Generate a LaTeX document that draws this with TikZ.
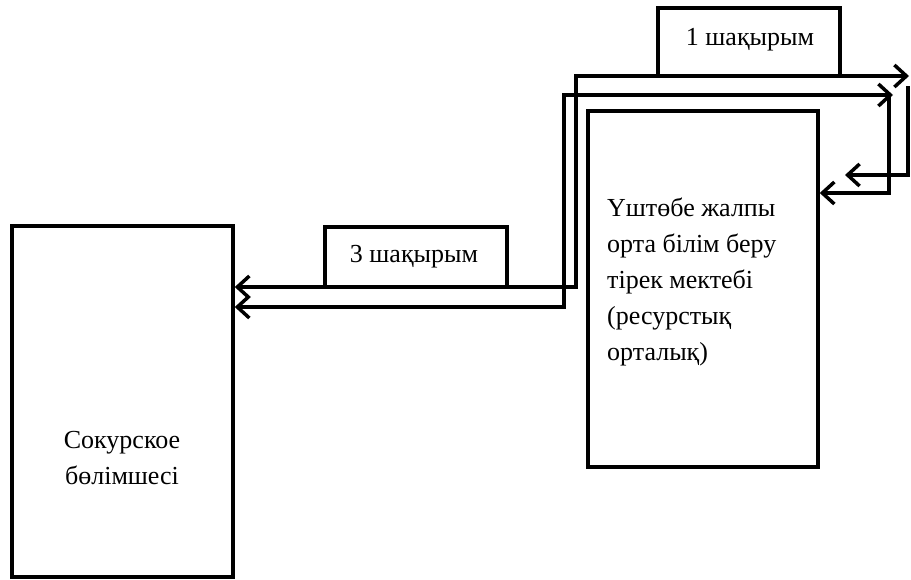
\documentclass[tikz,border=0pt]{standalone}
\usepackage{fontspec}
\setmainfont{Liberation Serif}
\usetikzlibrary{arrows.meta}
\begin{document}
\begin{tikzpicture}[x=1pt,y=-1pt,
  box/.style={draw=black, line width=3.5pt, rectangle, inner sep=0pt},
  lbl/.style={inner sep=0pt, font=\fontsize{26}{36}\selectfont},
  conn/.style={draw=black, line width=3.5pt},
  >={Straight Barb[length=12pt,width=22pt,line width=3.5pt]}]
\useasboundingbox[fill=white] (0,0) rectangle (911,579);
% boxes
\node[box, minimum width=221pt, minimum height=351pt] (L) at (122.5,401.5) {};
\node[box, minimum width=182pt, minimum height=60pt] (T3) at (416,257) {};
\node[box, minimum width=182pt, minimum height=68pt] (T1) at (749,42) {};
\node[box, minimum width=230pt, minimum height=356pt] (R) at (703,289) {};
% texts
\node[lbl, anchor=base] (t3) at (414,262) {3 шақырым};
\node[lbl, anchor=base] (t1) at (750,45) {1 шақырым};
\node[lbl, anchor=north, align=center] (tl) at (122,431) {Сокурское\\бөлімшесі};
\node[lbl, anchor=north west, align=left] (tr) at (607,198) {Үштөбе жалпы\\орта білім беру\\тірек мектебі\\(ресурстық\\орталық)};
% connector coordinates
\coordinate (a1) at (576,287);
\coordinate (b1) at (909,76);
\coordinate (a2) at (564,307);
\coordinate (b2) at (893,95);
\coordinate (c3) at (908,86);
\coordinate (d3) at (908,175);
\coordinate (e3) at (845,175);
\coordinate (c4) at (889,95);
\coordinate (d4) at (889,193);
% connectors
\draw[conn, <->] (L.east |- a1) -- (a1) -- (a1 |- b1) -- (b1);
\draw[conn, <->] (L.east |- a2) -- (a2) -- (a2 |- b2) -- (b2);
\draw[conn, ->] (c3) -- (d3) -- (e3);
\draw[conn, ->] (c4) -- (d4) -- (R.east |- d4);
\end{tikzpicture}
\end{document}
